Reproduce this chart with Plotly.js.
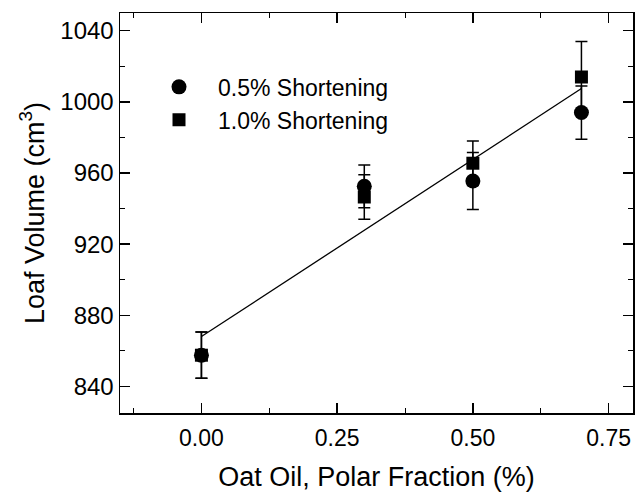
<!DOCTYPE html>
<html><head><meta charset="utf-8">
<script src="https://cdn.plot.ly/plotly-3.0.1.min.js"></script>
<style>html,body{margin:0;padding:0;background:#fff;}#chart{width:635px;height:493px;}</style>
</head><body><div id="chart"></div>
<script>
// Data
const xPolar = [0.0, 0.3, 0.5, 0.7];
const loaf05 = [857.5, 952.5, 955.5, 994];
const err05 = [13, 12, 16, 15];
const loaf10 = [857.5, 946.5, 965.5, 1014];
const err10 = [13, 12.5, 12.5, 20];
const fitX = [0.0, 0.7];
const fitY = [868, 1007.5];
const seriesNames = ['0.5% Shortening', '1.0% Shortening'];

const FONT = 'Liberation Sans, Arial, Helvetica, sans-serif';

const traces = [
  {
    x: fitX, y: fitY, mode: 'lines', type: 'scatter', showlegend: false,
    line: {color: '#000', width: 1.3}, hoverinfo: 'skip'
  },
  {
    x: xPolar, y: loaf05, mode: 'markers', type: 'scatter', name: seriesNames[0],
    marker: {symbol: 'circle', size: 15, color: '#000'},
    error_y: {type: 'data', array: err05, visible: true, color: '#000', thickness: 1.5, width: 6}
  },
  {
    x: xPolar, y: loaf10, mode: 'markers', type: 'scatter', name: seriesNames[1],
    marker: {symbol: 'square', size: 13, color: '#000'},
    error_y: {type: 'data', array: err10, visible: true, color: '#000', thickness: 1.5, width: 6}
  }
];

const layout = {
  width: 635, height: 493,
  margin: {l: 120, r: 2, t: 13, b: 80},
  paper_bgcolor: '#fff', plot_bgcolor: '#fff',
  font: {family: FONT, color: '#000'},
  showlegend: true,
  legend: {
    x: 0.039, y: 0.774, xanchor: 'left', yanchor: 'middle',
    bgcolor: 'rgba(0,0,0,0)', borderwidth: 0,
    font: {family: FONT, size: 23, color: '#000'},
    itemwidth: 68, tracegroupgap: 0
  },
  xaxis: {
    range: [-0.15, 0.795], dtick: 0.25, tick0: 0, tickformat: '.2f',
    ticks: 'inside', ticklen: 10, tickwidth: 1.3, tickcolor: '#000',
    minor: {ticks: 'inside', dtick: 0.125, ticklen: 5, tickwidth: 1, tickcolor: '#000'},
    showline: true, linecolor: '#000', linewidth: 1.5, mirror: 'allticks',
    showgrid: false, zeroline: false, ticklabelstandoff: 4,
    tickfont: {family: FONT, size: 23, color: '#000'},
    title: {text: 'Oat Oil, Polar Fraction (%)', font: {family: FONT, size: 27, color: '#000'}, standoff: 17}
  },
  yaxis: {
    range: [825, 1050], dtick: 40, tick0: 0,
    ticks: 'inside', ticklen: 10, tickwidth: 1.3, tickcolor: '#000',
    minor: {ticks: 'inside', dtick: 20, ticklen: 5, tickwidth: 1, tickcolor: '#000'},
    showline: true, linecolor: '#000', linewidth: 1.5, mirror: 'allticks',
    showgrid: false, zeroline: false,
    tickfont: {family: FONT, size: 24, color: '#000'},
    title: {text: 'Loaf Volume (cm<sup>3</sup>)', font: {family: FONT, size: 27, color: '#000'}, standoff: 8}
  }
};

Plotly.newPlot('chart', traces, layout, {staticPlot: true, displayModeBar: false});
</script>
</body></html>
